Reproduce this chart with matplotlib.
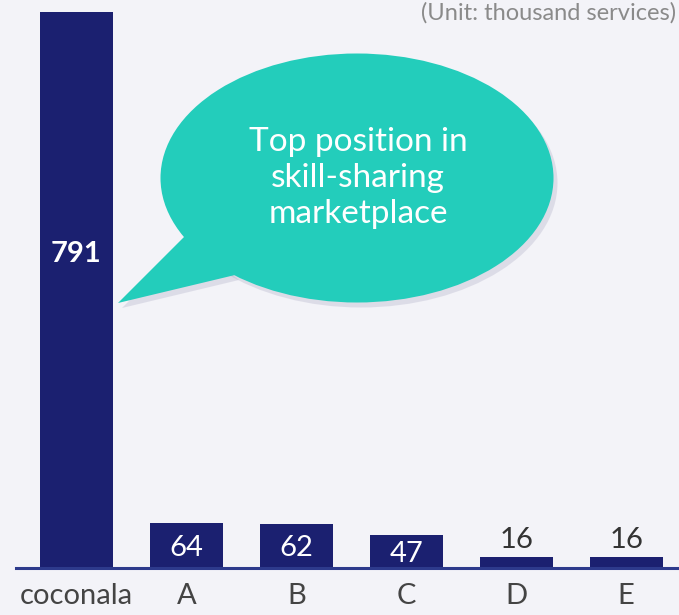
import numpy as np
import matplotlib.pyplot as plt
from matplotlib import rc
from matplotlib.patches import Ellipse, Polygon

rc('font', **{'family': ['Lato', 'DejaVu Sans'], 'size': 20})

categories = ['coconala', 'A', 'B', 'C', 'D', 'E']
values = [791, 64, 62, 47, 16, 16]
labels_inside = [True, True, True, True, False, False]
unit_text = '(Unit: thousand services)'
bubble_text = 'Top position in\nskill-sharing\nmarketplace'

bg = '#f3f3f8'
navy = '#1b2070'
teal = '#23cdbb'

W, H = 679, 615
fig = plt.figure(figsize=(W / 100, H / 100), dpi=100, facecolor=bg)

# main bar axes: baseline at y=568px, left edge of baseline at x=16px
ax = fig.add_axes([16 / W, (H - 568) / H, (W - 16) / W, 568 / H])
ax.set_facecolor(bg)
x = np.arange(len(categories))
ax.bar(x, values, width=0.665, color=navy, zorder=2)
ax.set_xlim(-0.55, 5.48)
ax.set_ylim(0, 791 * 568 / 556)
for s in ['top', 'right', 'left']:
    ax.spines[s].set_visible(False)
ax.spines['bottom'].set_color('#2d3a8c')
ax.spines['bottom'].set_linewidth(2.2)
ax.set_yticks([])
ax.set_xticks(x)
ax.set_xticklabels(categories, color='#444444', fontsize=21)
ax.tick_params(axis='x', length=0, pad=11)

for xi, v, inside in zip(x, values, labels_inside):
    if v > 500:
        ax.text(xi, v * 0.565, str(v), ha='center', va='center',
                color='white', fontsize=21, fontweight='bold')
    elif inside:
        ax.text(xi, v / 2 - 3, str(v), ha='center', va='center',
                color='white', fontsize=21)
    else:
        ax.text(xi, v + 6, str(v), ha='center', va='bottom',
                color='#333333', fontsize=21)

fig.text(676 / W, 1 - 2 / H, unit_text, ha='right', va='top',
         color='#8a8a8a', fontsize=17)

# overlay for the speech bubble, in pixel coordinates
ov = fig.add_axes([0, 0, 1, 1])
ov.set_xlim(0, W)
ov.set_ylim(H, 0)
ov.axis('off')
ov.patch.set_alpha(0)

tail = [(185, 236), (118, 303), (235, 275)]
for dx, dy, col, a in [(4, 5, '#9a9ab8', 0.25), (0, 0, teal, 1.0)]:
    ov.add_patch(Ellipse((357 + dx, 178 + dy), 393, 249, color=col,
                         alpha=a, lw=0))
    ov.add_patch(Polygon([(px + dx, py + dy) for px, py in tail],
                         closed=True, color=col, alpha=a, lw=0))

ov.text(358, 178, bubble_text, ha='center', va='center', color='white',
        fontsize=24, linespacing=1.25)

plt.savefig('out.png', dpi=100, facecolor=bg)
